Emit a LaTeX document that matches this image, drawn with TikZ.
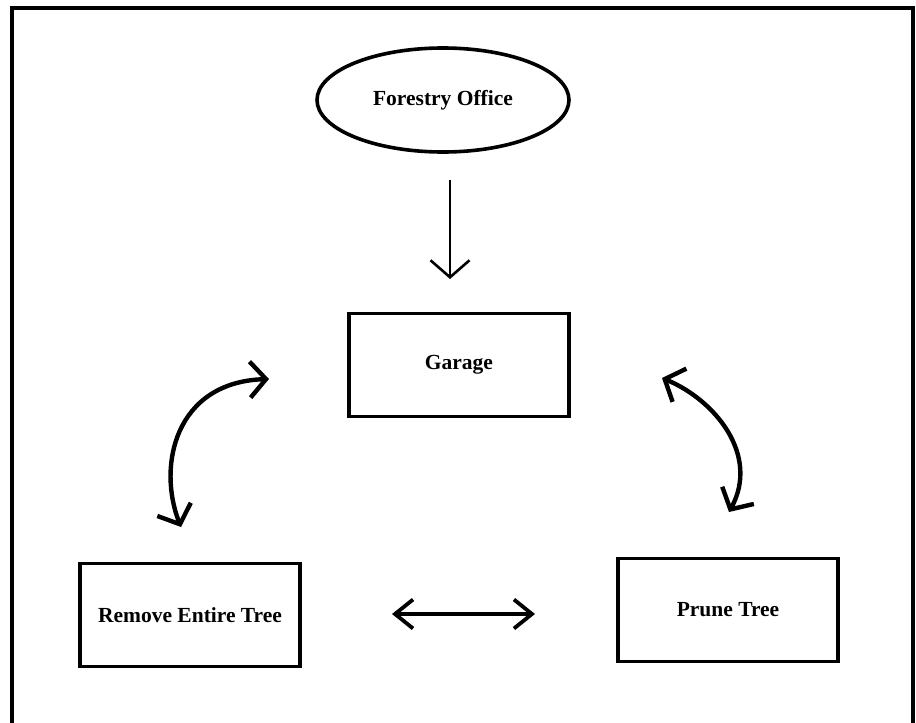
\documentclass[tikz,border=0pt]{standalone}
\usepackage{fontspec}
\setmainfont{Liberation Serif}
\usetikzlibrary{arrows.meta,shapes.geometric}
\tikzset{
  lbl/.style={font=\fontsize{21.5}{24}\selectfont\bfseries, inner sep=0pt},
  boxnode/.style={draw, line width=3.6pt, minimum width=220pt, minimum height=103pt, lbl},
  dbarb/.style={{Straight Barb[length=16pt,width=36pt]}-{Straight Barb[length=16pt,width=36pt]}},
  hbarb/.style={{Straight Barb[length=18pt,width=29pt]}-{Straight Barb[length=18pt,width=29pt]}},
}
\begin{document}
\begin{tikzpicture}[x=1pt,y=-1pt]
\useasboundingbox (0,0) rectangle (916,723);
\clip (0,0) rectangle (916,723);
\fill[white] (0,0) rectangle (916,723);
% outer frame (bottom edge lies outside the picture)
\draw[line width=3.2pt] (12,760) -- (12,8) -- (913,8) -- (913,760);

\node[draw, ellipse, line width=3.6pt, minimum width=252pt, minimum height=104pt, lbl] (fo) at (443,100) {Forestry Office};
\node[boxnode] (ga) at (459,365) {Garage};
\node[boxnode] (rt) at (190,615) {Remove Entire Tree};
\node[boxnode] (pt) at (728,610) {Prune Tree};

\coordinate (d1) at (450,180);
\coordinate (d2) at (450,279);
\draw[line width=2.6pt, -{Straight Barb[length=17pt,width=39pt]}] (d1) -- (d2);

\coordinate (l1) at (269,379);
\coordinate (l2) at (181,527);
\draw[line width=4.4pt, dbarb] (l1) .. controls (175,382) and (157,466) .. (l2);

\coordinate (r1) at (662,378);
\coordinate (r2) at (729,512);
\draw[line width=4.4pt, dbarb] (r1) .. controls (715,400) and (760,455) .. (r2);

\coordinate (h1) at (392,614);
\coordinate (h2) at (535,614);
\draw[line width=3.8pt, hbarb] (h1) -- (h2);
\end{tikzpicture}
\end{document}
